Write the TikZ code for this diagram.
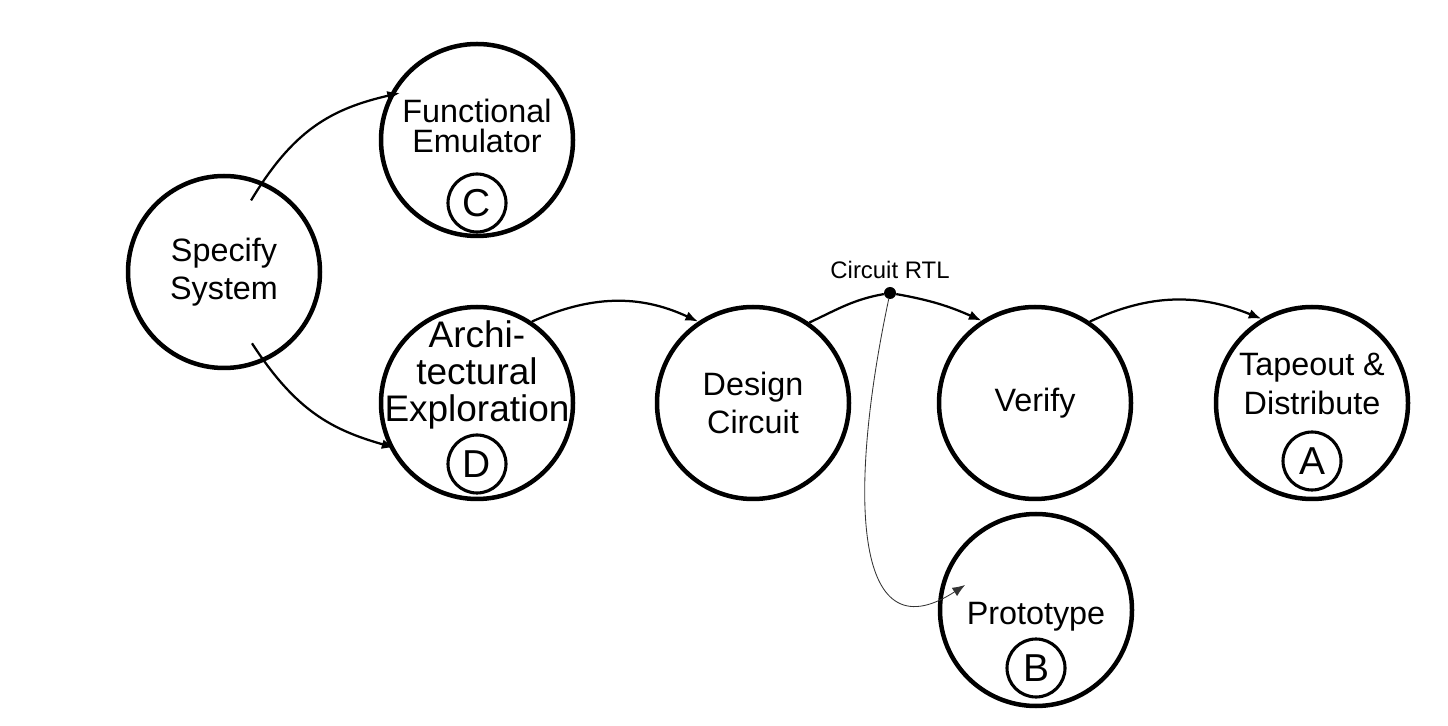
\documentclass[tikz,border=0pt]{standalone}
\usepackage{fontspec}
\setmainfont{Liberation Sans}
\usetikzlibrary{arrows.meta,positioning}

\tikzset{
    stage/.style={circle, draw, line width=3.2pt, minimum size=4.8cm, inner sep=0pt},
    words/.style={align=center, inner sep=0pt, font=\fontsize{23}{27.5}\selectfont},
    tag/.style={circle, draw, line width=2.2pt, minimum size=1.45cm, inner sep=0pt,
        font=\fontsize{27.7}{30}\selectfont},
    flow/.style={-{Latex[length=9pt,width=7pt]}, line width=1.6pt},
    branch/.style={-{Latex[length=9pt,width=7pt]}, line width=0.6pt, black!80},
    junction/.style={circle, fill, inner sep=0pt, minimum size=0.3cm},
}

\begin{document}
\begin{tikzpicture}
    \useasboundingbox (0,0) rectangle (36.2,18.125);
    % --- Stages ---
    \node[stage] (spec) at (5.6,11.325) {};
    \node[stage] (emul) at (11.925,14.625) {};
    \node[stage] (arch) at (11.925,8.05) {};
    \node[stage] (design) at (18.825,8.05) {};
    \node[stage] (verify) at (25.875,8.05) {};
    \node[stage] (tape) at (32.8,8.05) {};
    \node[stage] (proto) at (25.9,2.875) {};
    % --- Texts ---
    \node[words] (spectext) at (spec) {Specify\\System};
    \node[words, font=\fontsize{23}{21.8}\selectfont] (emultext) at ([yshift=0.35cm]emul.center) {Functional\\Emulator};
    \node[words, font=\fontsize{26.3}{26.3}\selectfont] (archtext) at ([yshift=0.7cm]arch.center) {Archi-\\tectural\\Exploration};
    \node[words] (designtext) at (design) {Design\\Circuit};
    \node[words] (verifytext) at (verify) {Verify};
    \node[words] (tapetext) at ([yshift=0.475cm]tape.center) {Tapeout \&\\Distribute};
    \node[words] (prototext) at ([yshift=-0.175cm]proto.center) {Prototype};
    % --- Tags ---
    \node[tag] (emultag) at ([yshift=-1.575cm]emul.center) {C};
    \node[tag] (archtag) at ([yshift=-1.525cm]arch.center) {D};
    \node[tag] (tapetag) at ([yshift=-1.45cm]tape.center) {A};
    \node[tag] (prototag) at ([yshift=-1.45cm]proto.center) {B};
    % --- Circuit RTL ---
    \node[junction] (rtl) at (22.25,10.8) {};
    \node[inner sep=0pt, font=\fontsize{17}{20}\selectfont, above=0.2cm of rtl] (rtltext) {Circuit RTL};
    \coordinate (protoin) at ([shift={(160.6:1.88)}]proto.center);
    % --- Flow ---
    \draw[flow, shorten <=-0.55cm, shorten >=-0.27cm] (spec.67) to[out=59, in=193] (emul.153);
    \draw[flow, shorten <=-0.55cm, shorten >=-0.15cm] (spec.-66) to[out=-57, in=164] (arch.206);
    \draw[flow] (arch.56) to[out=24, in=155] (design.124);
    \draw[line width=1.6pt] (design.55) to[out=25, in=190] (rtl);
    \draw[flow] (rtl) to[out=-10, in=156] (verify.123);
    \draw[flow] (verify.56) to[out=25, in=158] (tape.121);
    \draw[branch] (rtl) to[out=-102, in=213, out distance=4.8cm, in distance=3.4cm] (protoin);
\end{tikzpicture}
\end{document}
